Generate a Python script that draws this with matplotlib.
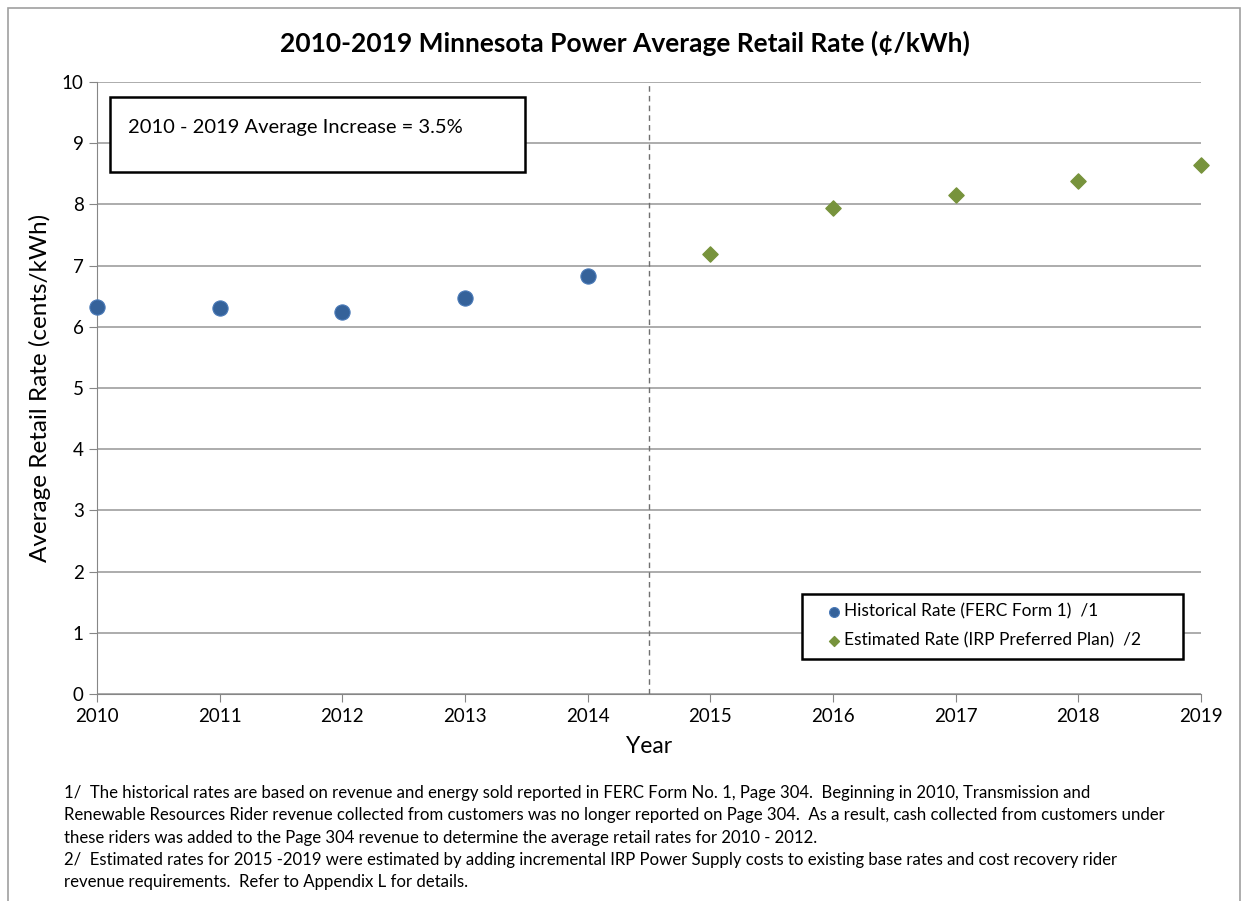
import matplotlib.pyplot as plt
from matplotlib.patches import Rectangle

plt.rcParams['font.family'] = ['Lato', 'DejaVu Sans']

# ----------------------------
# DATA
# ----------------------------
hist_years = [2010, 2011, 2012, 2013, 2014]
hist_rates = [6.32, 6.31, 6.24, 6.47, 6.83]

est_years = [2015, 2016, 2017, 2018, 2019]
est_rates = [7.19, 7.94, 8.16, 8.38, 8.64]

year_ticks = list(range(2010, 2020))

footnotes = [
    "1/  The historical rates are based on revenue and energy sold reported in FERC Form No. 1, Page 304.  Beginning in 2010, Transmission and",
    "Renewable Resources Rider revenue collected from customers was no longer reported on Page 304.  As a result, cash collected from customers under",
    "these riders was added to the Page 304 revenue to determine the average retail rates for 2010 - 2012.",
    "2/  Estimated rates for 2015 -2019 were estimated by adding incremental IRP Power Supply costs to existing base rates and cost recovery rider",
    "revenue requirements.  Refer to Appendix L for details.",
]

W, H = 1243, 901
fig = plt.figure(figsize=(W / 100, H / 100), dpi=100)

# outer chart frame
fig.patches.append(Rectangle((8 / W, -0.05), (1240 - 8) / W, 1 - 8 / H + 0.05,
                             transform=fig.transFigure, fill=False,
                             edgecolor='#a0a0a0', linewidth=1.2))

ax = fig.add_axes([97 / W, 1 - 694 / H, (1201 - 97) / W, (694 - 82) / H])

ax.scatter(hist_years, hist_rates, s=120, marker='o', color='#35629a',
           edgecolors='#4a7ab8', linewidths=0.8, zorder=3, clip_on=False,
           label='Historical Rate (FERC Form 1)  /1')
ax.scatter(est_years, est_rates, s=60, marker='D', color='#77933c',
           zorder=3, clip_on=False,
           label='Estimated Rate (IRP Preferred Plan)  /2')

ax.axvline(2014.5, color='#707070', linestyle=(0, (4, 3)), linewidth=1, zorder=2)

ax.set_xlim(2010, 2019)
ax.set_ylim(0, 10)
ax.set_xticks(year_ticks)
ax.set_yticks(range(0, 11))
ax.yaxis.grid(True, color='#a6a6a6', linewidth=1.3)
ax.set_axisbelow(True)

for side in ['top', 'right']:
    ax.spines[side].set_visible(False)
ax.spines['left'].set_color('#868686')
ax.spines['bottom'].set_color('#868686')
ax.tick_params(axis='both', labelsize=13.5, color='#868686', length=6)
ax.tick_params(axis='x', pad=4)

ax.set_xlabel('Year', fontsize=16.5, labelpad=8)
ax.set_ylabel('Average Retail Rate (cents/kWh)', fontsize=17.5, labelpad=8)

fig.text(625 / W, 1 - 43 / H,
         '2010-2019 Minnesota Power Average Retail Rate (¢/kWh)',
         ha='center', va='center', fontsize=19, fontweight='bold')

# average increase box
ax.add_patch(Rectangle((110 / W, 1 - 172 / H), (525 - 110) / W, 75 / H,
                       transform=fig.transFigure, fill=True, clip_on=False,
                       facecolor='white', edgecolor='black', linewidth=1.8,
                       zorder=5))
ax.text(128 / W, 1 - 127 / H, '2010 - 2019 Average Increase = 3.5%',
        transform=fig.transFigure, ha='left', va='center', fontsize=14.5,
        zorder=6)

# legend box
ax.add_patch(Rectangle((802 / W, 1 - 659 / H), (1183 - 802) / W, 65 / H,
                       transform=fig.transFigure, fill=True, clip_on=False,
                       facecolor='white', edgecolor='black', linewidth=1.8,
                       zorder=5))
leg = ax.legend(loc='center left', frameon=False, fontsize=12.5,
                handletextpad=0.05, handlelength=1.0, borderpad=0,
                labelspacing=0.75, markerscale=0.65)
leg.set_bbox_to_anchor((817 / W, 1 - 626 / H), transform=fig.transFigure)
leg.set_zorder(6)

for i, line in enumerate(footnotes):
    fig.text(64 / W, 1 - (793 + 22.3 * i) / H, line, ha='left', va='center',
             fontsize=12.1)

fig.savefig('out.png', dpi=100)
